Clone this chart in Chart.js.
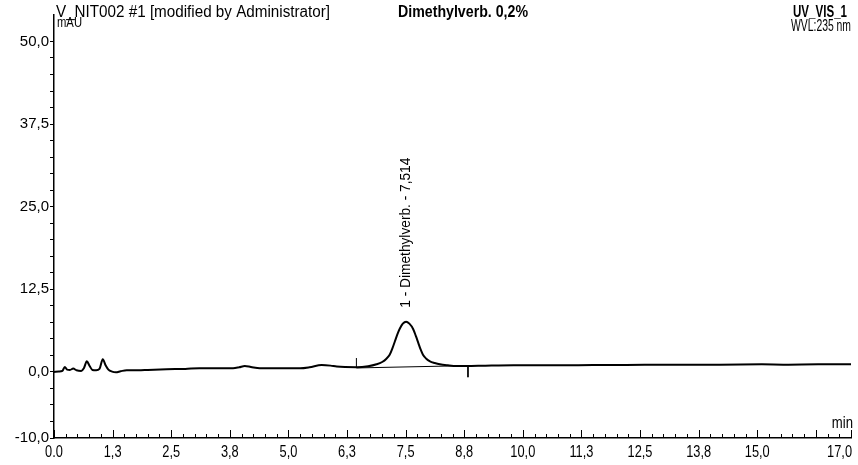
<!DOCTYPE html>
<html>
<head>
<meta charset="utf-8">
<script src="https://cdn.jsdelivr.net/npm/chart.js@4.4.1/dist/chart.umd.min.js"></script>
<style>
  html, body { margin: 0; padding: 0; background: #fff; }
</style>
</head>
<body>
<canvas id="chrom" width="858" height="465"></canvas>
<script>
// V_NIT002 #1, channel UV_VIS_1 (235 nm), retention time in min vs absorbance in mAU
const times = [
  0.00, 0.10, 0.18, 0.23, 0.28, 0.34, 0.41, 0.48, 0.58, 0.64, 0.70, 0.76, 0.82, 0.90,
  0.97, 1.04, 1.10, 1.16, 1.24, 1.32, 1.42, 1.55, 1.80, 2.00, 2.40, 2.80, 3.10, 3.50,
  3.82, 3.95, 4.07, 4.20, 4.39, 4.80, 5.25, 5.45, 5.71, 5.90, 6.03, 6.45, 6.70, 6.88,
  7.00, 7.09, 7.16, 7.22, 7.27, 7.33, 7.38, 7.44, 7.51, 7.58, 7.66, 7.72, 7.77, 7.82,
  7.87, 7.94, 8.02, 8.12, 8.23, 8.40, 8.59, 8.80, 9.20, 9.80, 10.40, 10.86, 11.50,
  12.20, 12.99, 13.60, 14.20, 15.10, 15.60, 16.30, 17.00
];
const signal = [
  0.00, 0.05, 0.15, 0.75, 0.35, 0.30, 0.50, 0.25, 0.15, 0.60, 1.60, 0.90, 0.30, 0.25,
  0.45, 1.90, 1.00, 0.35, 0.05, -0.05, 0.10, 0.25, 0.25, 0.30, 0.40, 0.45, 0.55, 0.55,
  0.55, 0.70, 0.90, 0.75, 0.55, 0.55, 0.55, 0.70, 1.05, 0.95, 0.80, 0.70, 0.85, 1.15,
  1.50, 2.00, 2.60, 3.60, 4.60, 5.80, 6.60, 7.30, 7.60, 7.30, 6.50, 5.40, 4.40, 3.40,
  2.60, 2.00, 1.60, 1.35, 1.15, 1.00, 0.90, 0.90, 0.95, 1.00, 1.00, 1.00, 1.05,
  1.05, 1.10, 1.10, 1.10, 1.15, 1.10, 1.15, 1.15
];

// integrated peak: name, retention time, baseline start/end
const peakNo = 1;
const peakName = 'Dimethylverb.';
const peakTime = 7.514;
const baseTimes = [6.45, 8.83];
const baseValues = [0.60, 0.95];
const startMark = [0.60, 2.10];
const endMark = [0.95, -0.80];

// axis ticks
const xStep = 0.25;
const xMajor = [0, 1.25, 2.5, 3.75, 5, 6.25, 7.5, 8.75, 10, 11.25, 12.5, 13.75, 15, 16.25, 17];
const xLabeled = [0, 1.25, 2.5, 3.75, 5, 6.25, 7.5, 8.75, 10, 11.25, 12.5, 13.75, 15, 17];
const yStep = 2.5;
const yLabeled = [-10, 0, 12.5, 25, 37.5, 50];

const FONT = '"Liberation Sans", Arial, sans-serif';

const near = (v, list) => list.some(l => Math.abs(l - v) < 1e-6);
const xText = v => v === 0 ? '0.0' : v.toFixed(1).replace('.', ',');
const yText = v => v.toFixed(1).replace('.', ',');

// printer font is a narrow sans, so squeeze the regular one
function narrowText(ctx, text, x, y, squeeze) {
  ctx.fillText(text, x, y, ctx.measureText(text).width * squeeze);
}

const trace = times.map((t, i) => ({ x: t, y: signal[i] }));
const baseline = baseTimes.map((t, i) => ({ x: t, y: baseValues[i] }));

// tick marks on the time axis point up into the plot, labels hang below
const timeAxis = {
  id: 'timeAxis',
  afterDraw(chart) {
    const { ctx, chartArea, scales: { x } } = chart;
    const yAxis = chartArea.bottom;
    ctx.save();
    ctx.strokeStyle = '#000';
    ctx.lineWidth = 1;
    for (let v = 0; v <= x.max + 1e-9; v += xStep) {
      const px = Math.round(x.getPixelForValue(v)) + 0.5;
      const len = near(v, xMajor) ? 8 : 4;
      ctx.beginPath();
      ctx.moveTo(px, yAxis);
      ctx.lineTo(px, yAxis - len);
      ctx.stroke();
    }
    ctx.fillStyle = '#000';
    ctx.font = '16px ' + FONT;
    ctx.textBaseline = 'middle';
    xLabeled.forEach(v => {
      const px = x.getPixelForValue(v);
      const last = v === x.max;
      ctx.textAlign = last ? 'right' : 'center';
      narrowText(ctx, xText(v), last ? px + 1 : px, yAxis + 15, 0.8);
    });
    ctx.textAlign = 'right';
    narrowText(ctx, 'min', chartArea.right + 2, yAxis - 14, 0.82);
    ctx.restore();
  }
};

// header lines and the vertical peak label
const annotations = {
  id: 'annotations',
  afterDraw(chart) {
    const { ctx, chartArea, scales: { x, y } } = chart;
    ctx.save();
    ctx.fillStyle = '#000';
    ctx.textBaseline = 'middle';

    ctx.textAlign = 'left';
    ctx.font = '16px ' + FONT;
    ctx.fillText('V_NIT002 #1 [modified by Administrator]', chartArea.left + 2, 13, 274);
    ctx.font = '15px ' + FONT;
    ctx.fillText('mAU', chartArea.left + 3, 23, 25);
    ctx.font = 'bold 16px ' + FONT;
    ctx.fillText(peakName + ' 0,2%', 398, 13, 130);

    ctx.textAlign = 'right';
    ctx.fillText('UV_VIS_1', 847, 13, 54);
    ctx.font = '16px ' + FONT;
    ctx.fillText('WVL:235 nm', 851, 27, 60);

    const top = Math.max(...signal);
    ctx.translate(x.getPixelForValue(peakTime), y.getPixelForValue(top) - 14);
    ctx.rotate(-Math.PI / 2);
    ctx.textAlign = 'left';
    ctx.font = '15px ' + FONT;
    ctx.fillText(peakNo + ' - ' + peakName + ' - ' + peakTime.toFixed(3).replace('.', ','), 0, 0, 150);
    ctx.restore();
  }
};

new Chart(document.getElementById('chrom'), {
  type: 'line',
  data: {
    datasets: [
      {
        data: trace,
        borderColor: '#000',
        borderWidth: 2,
        pointRadius: 0,
        cubicInterpolationMode: 'monotone'
      },
      {
        data: baseline,
        borderColor: '#000',
        borderWidth: 1,
        pointRadius: 0
      },
      {
        data: startMark.map(v => ({ x: baseTimes[0], y: v })),
        borderColor: '#000',
        borderWidth: 1,
        pointRadius: 0
      },
      {
        data: endMark.map(v => ({ x: baseTimes[1], y: v })),
        borderColor: '#000',
        borderWidth: 1,
        pointRadius: 0
      }
    ]
  },
  options: {
    responsive: false,
    animation: false,
    devicePixelRatio: 1,
    layout: { padding: { top: 15, right: 7, left: 0, bottom: 0 } },
    plugins: {
      legend: { display: false },
      tooltip: { enabled: false }
    },
    scales: {
      x: {
        type: 'linear',
        min: 0,
        max: 17,
        afterFit(s) { s.height = 27; },
        ticks: { display: false },
        grid: { display: false },
        border: { display: true, color: '#000', width: 1.5 }
      },
      y: {
        type: 'linear',
        min: -10,
        max: 54,
        afterFit(s) { s.width = 54; },
        afterBuildTicks(s) {
          const ticks = [];
          for (let v = -10; v <= 50 + 1e-9; v += yStep) ticks.push({ value: v });
          s.ticks = ticks;
        },
        ticks: {
          autoSkip: false,
          color: '#000',
          padding: 1,
          font: { family: FONT, size: 15 },
          callback: v => near(v, yLabeled) ? yText(v) : ''
        },
        grid: {
          drawOnChartArea: false,
          drawTicks: true,
          tickLength: 4,
          color: '#000'
        },
        border: { display: true, color: '#000', width: 1.5 }
      }
    }
  },
  plugins: [timeAxis, annotations]
});
</script>
</body>
</html>
